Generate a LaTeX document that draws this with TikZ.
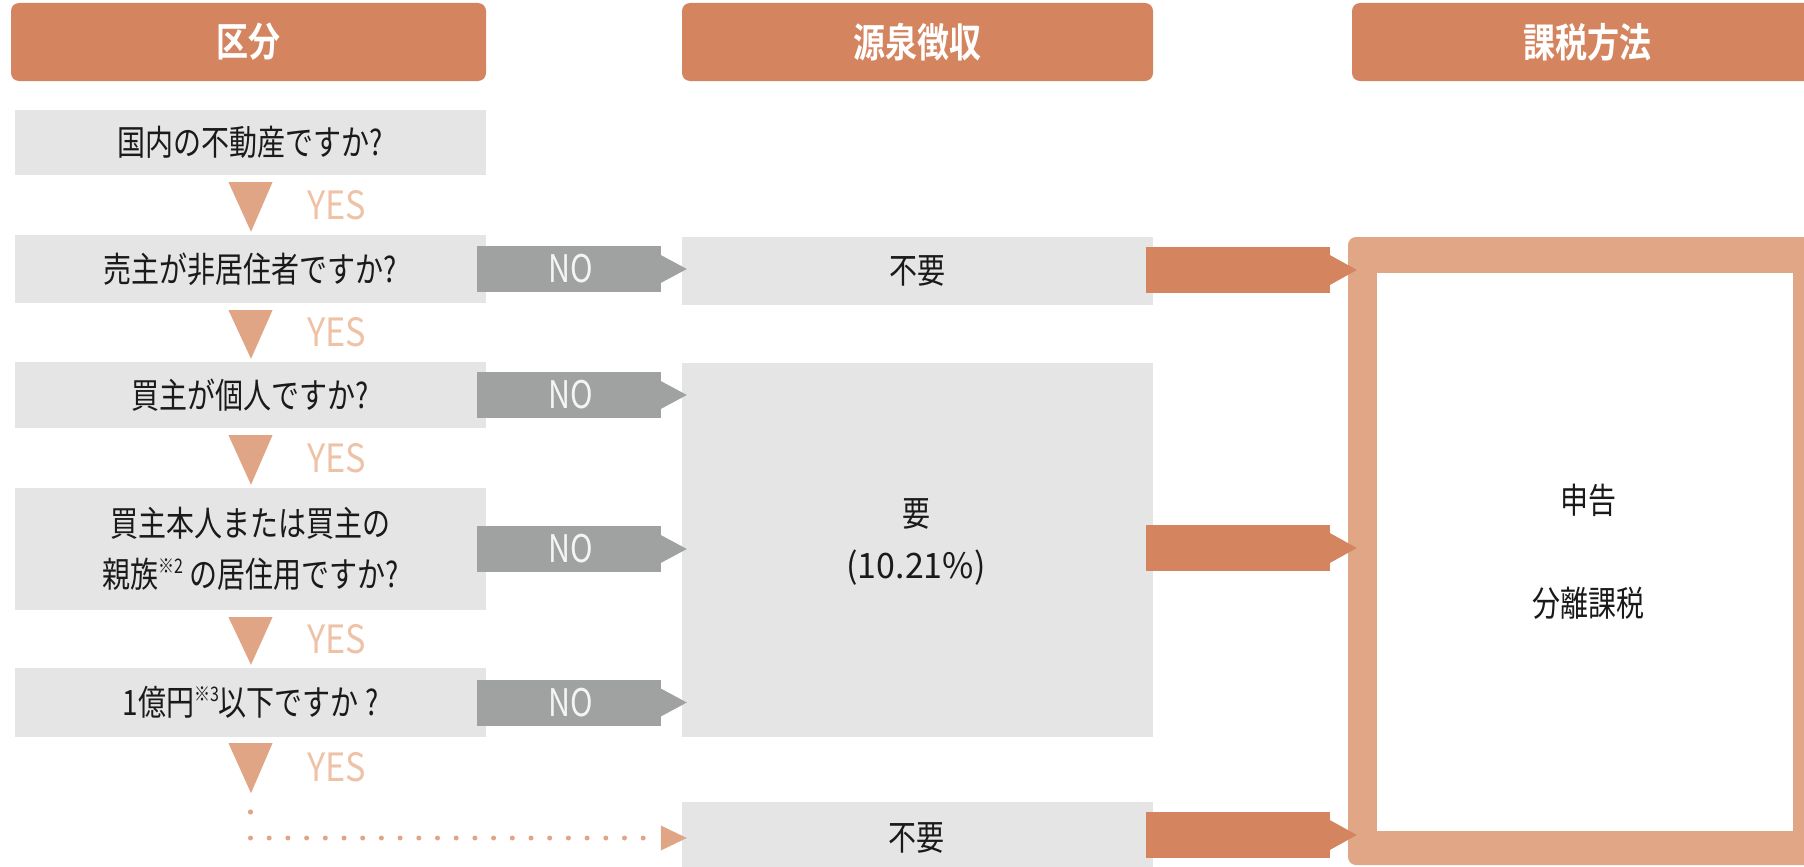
\documentclass[tikz,border=0pt]{standalone}
\usepackage{fontspec}
\newfontfamily\jp[FakeStretch=0.8]{Noto Sans CJK JP}
\newfontfamily\jpl[FakeStretch=0.97]{Noto Sans CJK JP}
\newfontfamily\jpy[FakeStretch=0.88]{Noto Sans CJK JP}
\newfontfamily\jpb[FakeStretch=0.8]{Noto Sans CJK JP Bold}
\usetikzlibrary{calc}
\definecolor{hdrc}{HTML}{D4845E}
\definecolor{framec}{HTML}{E0A686}
\definecolor{tric}{HTML}{E0A585}
\definecolor{yesc}{HTML}{EEC2A7}
\definecolor{grayar}{HTML}{A0A2A1}
\definecolor{boxc}{HTML}{E5E5E5}
\definecolor{txtc}{HTML}{1A1A1A}
\definecolor{notc}{HTML}{F4F4F4}
\newcommand{\supmark}[1]{\raisebox{0.42em}{\fontsize{20}{20}\selectfont #1}}
\tikzset{
  hdr/.style={fill=hdrc, rounded corners=8pt, inner sep=0pt, text=white,
    font=\jpb\fontsize{40}{40}\selectfont},
  qbox/.style={fill=boxc, inner sep=0pt, minimum width=471pt, text=txtc,
    font=\jp\fontsize{35}{51}\selectfont, align=center},
  mbox/.style={fill=boxc, inner sep=0pt, minimum width=471pt, text=txtc,
    font=\jp\fontsize{35}{52}\selectfont, align=center},
  bodytext/.style={inner sep=0pt, text=txtc, font=\jp\fontsize{35}{52}\selectfont, align=center},
  tri/.style={fill=tric},
  yeslbl/.style={inner sep=0pt, text=yesc, font=\jpy\fontsize{39}{39}\selectfont},
  noar/.style={fill=grayar},
  nolbl/.style={inner sep=0pt, text=notc, font=\jp\fontsize{38}{38}\selectfont},
  orar/.style={fill=hdrc},
  dotline/.style={draw=tric, line width=5pt, line cap=round, dash pattern=on 0pt off 18.7pt},
}
\begin{document}
\begin{tikzpicture}[x=1pt,y=-1pt]
\useasboundingbox (0,0) rectangle (1804,867);

% headers
\node[hdr, minimum width=475pt, minimum height=78pt] (h1) at (248.5,42) {区分};
\node[hdr, minimum width=471pt, minimum height=78pt] (h2) at (917.5,42) {源泉徴収};
\node[hdr, minimum width=470pt, minimum height=78pt] (h3) at (1587,42) {課税方法};

% question boxes
\node[qbox, minimum height=65pt] (q1) at (250.5,142.5) {国内の不動産ですか?};
\node[qbox, minimum height=68pt] (q2) at (250.5,269) {売主が非居住者ですか?};
\node[qbox, minimum height=66pt] (q3) at (250.5,395) {買主が個人ですか?};
\node[qbox, minimum height=122pt] (q4) at (250.5,549) {買主本人または買主の\\親族\supmark{※2} の居住用ですか?};
\node[qbox, minimum height=69pt] (q5) at (250.5,702.5) {1億円\supmark{※3}以下ですか ?};

% middle boxes
\node[mbox, minimum height=68pt] (m1) at (917.5,271) {不要};
\node[mbox, minimum height=374pt] (m2) at (917.5,550) {};
\node[bodytext] (m2t) at (916,542) {要\\{\jpl (10.21\%)}};
\node[mbox, minimum height=73pt] (m3) at (917.5,838.5) {};
\node[bodytext] (m3t) at (916,838) {不要};

% result frame
\node[fill=framec, rounded corners=8pt, inner sep=0pt, minimum width=482pt, minimum height=628pt] (res) at (1589,551) {};
\node[fill=white, inner sep=0pt, minimum width=416pt, minimum height=558pt] (resin) at (1585,552) {};
\node[bodytext] (r1) at (1588,500) {申告};
\node[bodytext] (r2) at (1588,603) {分離課税};

% YES triangles
\foreach \a/\b in {q1/q2,q2/q3,q3/q4,q4/q5}{
  \fill[tri] ($(\a.south)+(-22,7)$) -- ($(\a.south)+(22,7)$) -- ($(\b.north)+(0.5,-3)$) -- cycle;
  \node[yeslbl] at ($(\a.south)!0.5!(\b.north)+(86,0)$) {YES};
}
\coordinate (t5) at ($(q5.south)+(0.5,56)$);
\fill[tri] ($(q5.south)+(-22,6)$) -- ($(q5.south)+(22,6)$) -- (t5) -- cycle;
\node[yeslbl] at ($(q5.south)+(86,30)$) {YES};

% dotted connector
\coordinate (d2) at (q5.south |- m3t.west);
\fill[tric] ($(d2)+(0,-26)$) circle (2.6pt);
\draw[dotline] (d2) -- ($(d2 -| m3.west)+(-24,0)$);
\fill[tric] ($(d2 -| m3.west)+(-21,-12.5)$) -- ($(d2 -| m3.west)+(5,0)$) -- ($(d2 -| m3.west)+(-21,12.5)$) -- cycle;

% NO arrows
\foreach \q/\m in {q2/m1,q3/m2,q4/m2,q5/m2}{
  \fill[noar] ($(\q.east)+(-9,-23)$) rectangle ($(\q.east -| \m.west)+(-21,23)$);
  \fill[noar] ($(\q.east -| \m.west)+(-21,-14)$) -- ($(\q.east -| \m.west)+(5,0)$) -- ($(\q.east -| \m.west)+(-21,14)$) -- cycle;
  \node[nolbl] at ($($(\q.east)+(-9,0)$)!0.5!($(\q.east -| \m.west)+(-21,0)$)+(2,0)$) {NO};
}

% orange arrows to result
\foreach \m/\dy in {m1/-1,m2/-2,m3/-3.5}{
  \fill[orar] ($(\m.east)+(-7,\dy-23)$) rectangle ($(\m.east -| res.west)+(-18,\dy+23)$);
  \fill[orar] ($(\m.east -| res.west)+(-18,\dy-15)$) -- ($(\m.east -| res.west)+(9,\dy)$) -- ($(\m.east -| res.west)+(-18,\dy+15)$) -- cycle;
}
\end{tikzpicture}
\end{document}
